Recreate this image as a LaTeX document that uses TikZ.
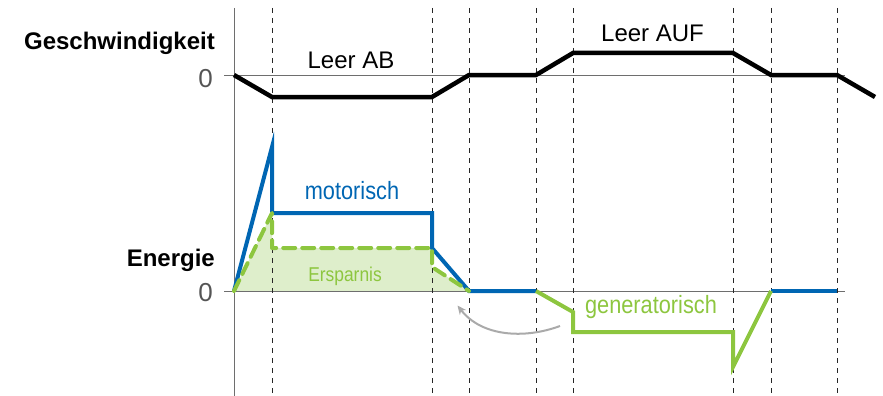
\documentclass[tikz,border=0pt]{standalone}
\usepackage{fontspec}
\setmainfont{Liberation Sans}
\usetikzlibrary{arrows.meta}
\definecolor{myblue}{HTML}{0066B3}
\definecolor{mygreen}{HTML}{8DC63F}
\definecolor{myfill}{HTML}{DEEECB}
\definecolor{axisgray}{HTML}{6E6E6E}
\definecolor{zerogray}{HTML}{555555}
\definecolor{arrgray}{HTML}{AAAAAA}
\begin{document}
\begin{tikzpicture}[x=1pt,y=-1pt,
  axisline/.style={draw=axisgray,line width=1pt},
  guide/.style={draw=black!85,line width=0.9pt,dash pattern=on 5pt off 5pt},
  speed/.style={draw=black,line width=4.5pt,line join=miter},
  motor/.style={draw=myblue,line width=4pt,line join=miter},
  gener/.style={draw=mygreen,line width=4pt,line join=miter},
  saving/.style={draw=mygreen,line width=4pt,dash pattern=on 12pt off 7pt,line cap=round,line join=round},
  biglabel/.style={font=\fontsize{24}{28}\selectfont\bfseries,anchor=base east,inner sep=0pt},
  zerolabel/.style={font=\fontsize{26}{30}\selectfont,text=zerogray,anchor=base,inner sep=0pt},
  phase/.style={font=\fontsize{24}{28}\selectfont,anchor=base,inner sep=0pt},
  curvelabel/.style={font=\fontsize{25}{28}\selectfont,anchor=base,inner sep=0pt}]
\useasboundingbox (0,0) rectangle (883,396);

% saving fill
\fill[myfill] (234,291) -- (272,213) -- (272,248) -- (432,248) -- (432,267) -- (469,291) -- cycle;

% axes
\draw[axisline] (234,8) -- (234,396);
\draw[axisline] (224,75) -- (845,75);
\draw[axisline] (224,291) -- (845,291);

% guides
\foreach \x in {272,432,469,536,573,733,771,837}
  \draw[guide] (\x,8) -- (\x,396);

% speed
\draw[speed] (234,75) -- (272,97) -- (432,97) -- (469,75) -- (536,75) -- (573,53) -- (733,53) -- (771,75) -- (837,75) -- (875,97);

% energy
\draw[motor] (234,291) -- (272,147) -- (272,213) -- (432,213) -- (432,248) -- (469,291) -- (536,291);
\draw[motor] (771,291) -- (837,291);
\draw[gener] (536,291) -- (573,312) -- (573,332) -- (733,332) -- (733,367) -- (771,291);
\draw[saving] (234,291) -- (272,213) -- (272,248) -- (432,248) -- (432,267) -- (469,291);

% arrow
\coordinate (arrS) at (560,326);
\coordinate (arrE) at (457.5,305.5);
\draw[arrgray,line width=2pt,-{Stealth[length=9pt,width=8pt]}] (arrS) .. controls (525,339) and (482,337) .. (arrE);

% labels
\node[biglabel] (lv) at (215,50) {Geschwindigkeit};
\node[biglabel] (le) at (215,266.5) {Energie};
\node[zerolabel] (z1) at (205.5,87) {0};
\node[zerolabel] (z2) at (205.5,301) {0};
\node[phase] (lab) at (351,68.3) {Leer AB};
\node[phase] (lauf) at (652.5,41.7) {Leer AUF};
\node[curvelabel,text=myblue] (lmot) at (352,199.3) {\scalebox{0.87}[1]{motorisch}};
\node[font=\fontsize{20}{24}\selectfont,anchor=base,inner sep=0pt,text=mygreen] (lers) at (345,281.7) {\scalebox{0.87}[1]{Ersparnis}};
\node[curvelabel,text=mygreen] (lgen) at (651,313.3) {\scalebox{0.87}[1]{generatorisch}};
\end{tikzpicture}
\end{document}
